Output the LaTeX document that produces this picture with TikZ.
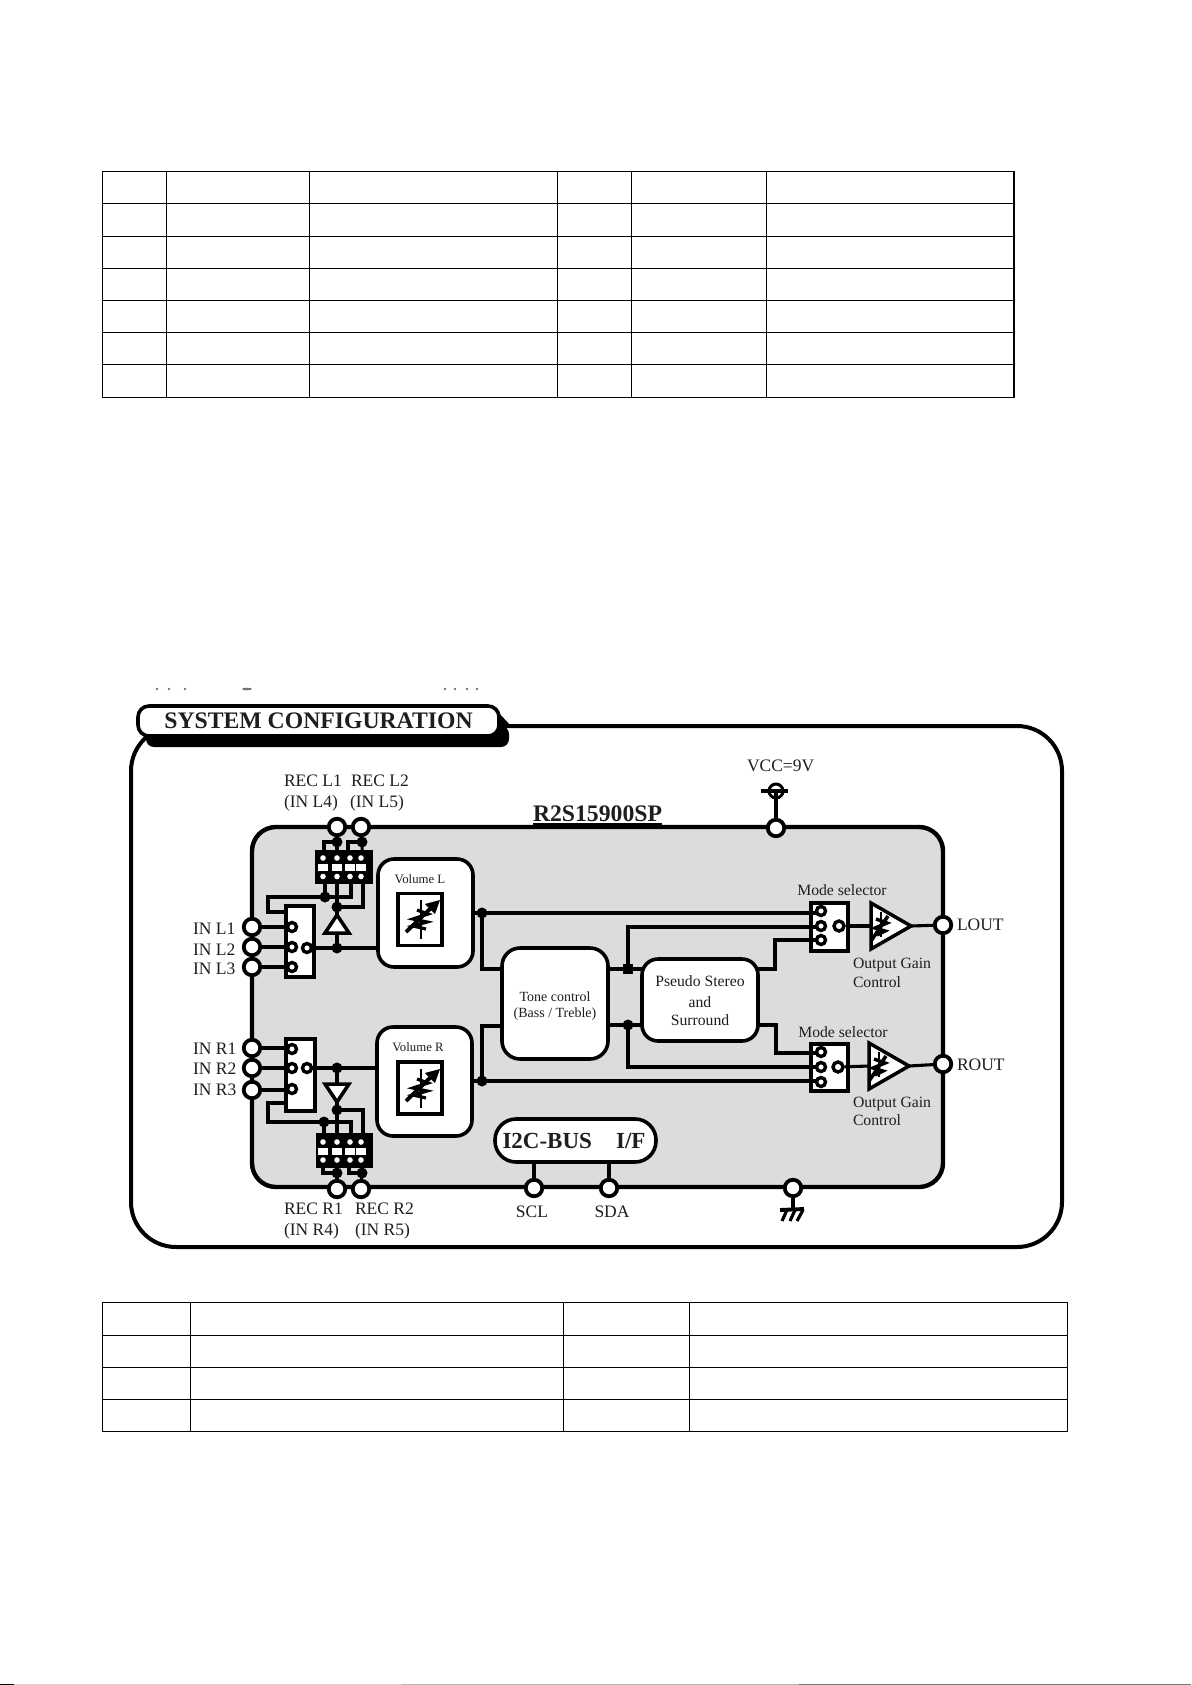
\documentclass[tikz,border=0pt]{standalone}
\usepackage{fontspec}
\setmainfont{Liberation Serif}
\usetikzlibrary{calc}
\definecolor{chipgray}{HTML}{DCDCDC}
\definecolor{txt}{HTML}{1E1E1E}
\tikzset{
  tline/.style={line width=1.4pt,black},
  wire/.style={line width=3.1pt,black,line join=miter},
  wirethick/.style={line width=3.9pt,black,line join=miter},
  pin/.style={circle,draw=black,fill=white,line width=3.8pt,minimum size=16.5pt,inner sep=0pt},
  contact/.style={circle,draw=black,fill=white,line width=3.4pt,minimum size=9pt,inner sep=0pt},
  jdot/.style={circle,fill=black,minimum size=11pt,inner sep=0pt},
  jsq/.style={rectangle,fill=black,minimum size=9.5pt,inner sep=0pt},
  sbox/.style={rectangle,draw=black,fill=white,line width=3.4pt,inner sep=0pt,outer sep=0pt},
  rbox/.style={rectangle,draw=black,fill=white,line width=3.6pt,rounded corners=16pt,inner sep=0pt,outer sep=0pt},
  icon/.style={rectangle,draw=black,fill=white,line width=3.8pt,inner sep=0pt,outer sep=0pt,minimum width=44pt,minimum height=52pt},
  tri/.style={draw=black,fill=white,line width=3.5pt,line join=miter},
  tx/.style={inner sep=0pt,outer sep=0pt,anchor=base west,text=txt,font=\fontsize{17.5}{21}\selectfont},
  txm/.style={inner sep=0pt,outer sep=0pt,anchor=base west,text=txt,font=\fontsize{15.7}{19}\selectfont},
  txc/.style={inner sep=0pt,outer sep=0pt,anchor=base,text=txt,font=\fontsize{15.7}{19}\selectfont},
  frag/.style={fill=black!55},
  varres/.pic={
    \draw[line width=2.2pt] (1,-19) -- (1,20);
    \draw[line width=3.8pt] (-14,13) -- (12,-12);
    \fill (20,-19) -- (5,-15) -- (9,-11) -- (15,-5) -- cycle;
    \draw[line width=3.2pt,line join=miter] (-3,-9) -- (8,-5) -- (-7,0) -- (7,3) -- (-7,7) -- (6,10);
  },
  vargain/.pic={
    \draw[line width=2.4pt] (10,-14) -- (10,11);
    \draw[line width=3.6pt] (0,15) -- (17,-10);
    \draw[line width=3.4pt,line join=miter] (5,-7) -- (16,-3) -- (4,2) -- (14,5) -- (6,9);
  }
}
\begin{document}
\begin{tikzpicture}[x=1pt,y=-1pt]
\path[use as bounding box,fill=white] (0,0) rectangle (1191,1685);

% scan edge at the bottom
\fill[white!88!magenta!70!gray] (0,1684) rectangle (402,1685);
\fill[black!30!white] (402,1684) rectangle (799,1685);
\fill[black!55!white] (799,1684) rectangle (1191,1685);
\fill[black] (0,1684) rectangle (14,1685);

% upper table
\foreach \yy in {171.7,203.3,236.3,268.3,300.3,332.3,364.3,397.3}
  \draw[tline] (102.7,\yy) -- (1013.9,\yy);
\foreach \xx in {102.7,166.3,309.6,557.6,631.7,766.5,1013.9}
  \draw[tline] (\xx,171) -- (\xx,398);

% lower table
\foreach \yy in {1302.3,1335.3,1367.3,1399.3,1431.3}
  \draw[tline] (102.3,\yy) -- (1067.5,\yy);
\foreach \xx in {102.3,190.4,563.6,689.7,1067.5}
  \draw[tline] (\xx,1301.6) -- (\xx,1432);

% clipped remnants of a line of text
\foreach \xx in {157,169,185,445,455,467,477}
  \fill[frag] (\xx,689) circle (1.3);
\fill[frag] (247,689) ellipse (5 and 1.3);

% outer frame
\draw[line width=4pt,black,fill=white,rounded corners=45pt] (131,726) rectangle (1062,1247);

% title
\fill[black,rounded corners=8pt] (146,726) rectangle (509,747);
\fill[black] (497,711) -- (511,726) -- (497,727) -- cycle;
\node[draw=black,fill=white,line width=3.6pt,rounded corners=11pt,minimum width=361pt,minimum height=30pt,inner sep=0pt,
  font=\bfseries\fontsize{23.7}{28}\selectfont,text=txt] (title) at (318.5,721) {\raisebox{-1.5pt}{SYSTEM CONFIGURATION}};

% chip body
\node[rectangle,draw=black,fill=chipgray,line width=4.4pt,rounded corners=24pt,minimum width=691pt,minimum height=360pt,inner sep=0pt,outer sep=0pt] (chip) at (597.5,1007) {};

% selectors and switches
\node[sbox,minimum width=28pt,minimum height=71pt] (selL) at (300,941.5) {};
\node[sbox,minimum width=29pt,minimum height=72pt] (selR) at (300.5,1075) {};
\node[sbox,minimum width=37pt,minimum height=48pt] (modeL) at (829.5,927) {};
\node[sbox,minimum width=37pt,minimum height=47pt] (modeR) at (829.5,1067.5) {};

% coordinates of the wiring
\coordinate (dotLa) at (337,948);
\coordinate (dotLb) at (337,907);
\coordinate (dotLt1) at (337,842);
\coordinate (dotLt2) at (362,842);
\coordinate (swLa) at (324,852);
\coordinate (swLb) at (348,852);
\coordinate (swLc) at (363,884);
\coordinate (swLm) at (337,884);
\coordinate (swLf) at (351,884);
\coordinate (swLg) at (325,884);
\coordinate (fbLa) at (351,897);
\coordinate (fbLb) at (268,897);
\coordinate (fbLc) at (268,912);
\coordinate (fbLd) at (286,912);
\coordinate (dotLf) at (325,897);

\coordinate (dotRa) at (337,1068);
\coordinate (dotRb) at (337,1110);
\coordinate (dotRt1) at (337,1173);
\coordinate (dotRt2) at (362,1173);
\coordinate (swRa) at (323,1166);
\coordinate (swRb) at (349,1166);
\coordinate (swRc) at (363,1134);
\coordinate (swRm) at (337,1134);
\coordinate (swRf) at (351,1134);
\coordinate (swRg) at (324,1134);
\coordinate (fbRa) at (351,1122);
\coordinate (fbRb) at (268,1122);
\coordinate (fbRc) at (268,1103);
\coordinate (fbRd) at (286,1103);
\coordinate (dotRf) at (324,1122);

\coordinate (dotM1) at (482,913);
\coordinate (dotM2) at (482,1081);
\coordinate (sqM) at (628,969);
\coordinate (dotM3) at (628,1025);
\coordinate (volLo) at (473,913);
\coordinate (volRo) at (472,1081);
\coordinate (volLi) at (378,948);
\coordinate (volRi) at (377,1068);
\coordinate (toneI1) at (502,969);
\coordinate (toneI2) at (502,1026);
\coordinate (toneO1) at (608,969);
\coordinate (toneO2) at (608,1025);
\coordinate (psI1) at (642,969);
\coordinate (psI2) at (642,1025);
\coordinate (psO1) at (758,969);
\coordinate (psO2) at (758,1025);
\coordinate (psJ1) at (775,969);
\coordinate (psJ2) at (776,1025);
\coordinate (gainLi) at (871,926);
\coordinate (gainLo) at (911,926);
\coordinate (gainRi) at (869,1066);
\coordinate (gainRo) at (909,1066);
\coordinate (vccS) at (776,791);
\coordinate (vccA) at (761,791);
\coordinate (vccB) at (788,791);
\coordinate (gndA) at (793,1209);
\coordinate (i2cA) at (534,1162);
\coordinate (i2cB) at (609,1162);

% pins (declared here, painted later over the wires)
\path
  (337,827) coordinate (pRecL1) (361,827) coordinate (pRecL2)
  (252,927) coordinate (pL1) (252,947) coordinate (pL2) (252,967) coordinate (pL3)
  (252,1048) coordinate (pR1) (252,1068) coordinate (pR2) (252,1090) coordinate (pR3)
  (337,1189) coordinate (pRecR1) (361,1189) coordinate (pRecR2)
  (534,1188) coordinate (pScl) (609,1188) coordinate (pSda) (793,1188) coordinate (pGnd)
  (776,828) coordinate (pVcc) (943,925) coordinate (pLout) (943,1064) coordinate (pRout);

% input wires
\foreach \a/\b in {pL1/292,pL2/292,pL3/292,pR1/292,pR2/292,pR3/292}
  \draw[wire] (\a) -- (\b,0 |- \a);
\draw[wire] (307,948) -- (volLi);
\draw[wire] (307,1068) -- (volRi);

% left channel, buffer and REC switch wiring
\draw[wire] (dotLa) -- (dotLb);
\draw[wire] (dotLb) -- (swLm);
\draw[wire] (dotLb) -| (swLc);
\draw[wire] (pRecL1) -- (dotLt1) -- (swLm);
\draw[wire] (pRecL2) -- (dotLt2) -- (swLc);
\draw[wire] (dotLt1) -| (swLa);
\draw[wire] (dotLt2) -| (swLb);
\draw[wirethick] (swLf) -- (fbLa) -- (fbLb) -- (fbLc) -- (fbLd);
\draw[wire] (dotLf) -- (swLg);

% right channel
\draw[wire] (dotRa) -- (dotRb);
\draw[wire] (dotRb) -- (swRm);
\draw[wire] (dotRb) -| (swRc);
\draw[wire] (pRecR1) -- (dotRt1) -- (swRm);
\draw[wire] (pRecR2) -- (dotRt2) -- (swRc);
\draw[wire] (dotRt1) -| (swRa);
\draw[wire] (dotRt2) -| (swRb);
\draw[wirethick] (swRf) -- (fbRa) -- (fbRb) -- (fbRc) -- (fbRd);
\draw[wire] (dotRf) -- (swRg);

% contacts of the selectors
\node[contact] (cL1) at (292,927) {};
\node[contact] (cL2) at (292,947) {};
\node[contact] (cL3) at (292,967) {};
\node[contact] (cLo) at (307,948) {};
\node[contact] (cR1) at (292,1049) {};
\node[contact] (cR2) at (292,1068) {};
\node[contact] (cR3) at (292,1089) {};
\node[contact] (cRo) at (307,1068) {};

% REC switches
\node[rectangle,fill=black,minimum width=58pt,minimum height=34pt,inner sep=0pt] (swL) at (344,867) {};
\node[rectangle,fill=black,minimum width=57pt,minimum height=35pt,inner sep=0pt] (swR) at (344,1150) {};
\foreach \xx in {323,337,350,361} {
  \fill[white] (\xx-5,863.5) rectangle (\xx+4.5,870.5);
  \fill[white] (\xx,858) circle (2.8);
  \fill[white] (\xx,876.5) circle (2.8);
  \fill[white] (\xx-5,1147.5) rectangle (\xx+4.5,1154.5);
  \fill[white] (\xx,1142) circle (2.8);
  \fill[white] (\xx,1160) circle (2.8);
}

% buffers
\draw[tri] (337,915) -- (349,933) -- (325,933) -- cycle;
\draw[tri] (337,1102) -- (349,1084) -- (325,1084) -- cycle;

% main signal wires
\draw[wire] (volLo) -- (dotM1);
\draw[wire] (dotM1) -- (821,913);
\draw[wirethick] (dotM1) |- (toneI1);
\draw[wire] (volRo) -- (dotM2);
\draw[wirethick] (dotM2) |- (toneI2);
\draw[wirethick] (dotM2) -- (821,1081);
\draw[wire] (toneO1) -- (psI1);
\draw[wire] (toneO2) -- (psI2);
\draw[wirethick] (sqM) |- (821,927);
\draw[wire] (dotM3) |- (821,1067);
\draw[wire] (psO1) -- (psJ1) |- (821,940);
\draw[wirethick] (psO2) -- (psJ2) |- (821,1053);

% blocks
\node[rbox,minimum width=95pt,minimum height=108pt] (volL) at (425.5,913) {};
\node[rbox,minimum width=95pt,minimum height=109pt] (volR) at (424.5,1081.5) {};
\node[rbox,rounded corners=18pt,minimum width=106pt,minimum height=111pt] (tone) at (555,1003.5) {};
\node[rbox,minimum width=116pt,minimum height=82pt] (pseudo) at (700,1000) {};
\node[icon] (iconL) at (420,919.5) {};
\node[icon] (iconR) at (420,1088) {};
\pic at (420,919) {varres};
\pic at (420,1088) {varres};
\node[rectangle,draw=black,fill=white,line width=3.6pt,rounded corners=21pt,minimum width=161pt,minimum height=43pt,inner sep=0pt,outer sep=0pt,
  font=\bfseries\fontsize{23}{27}\selectfont,text=txt] (i2c) at (575.5,1140.5) {\hspace{-3pt}I2C-BUS\hspace{0.8em} I/F};

% contacts of the mode selectors
\node[contact] (mL1) at (821,911) {};
\node[contact] (mL2) at (821,926) {};
\node[contact] (mL3) at (821,940) {};
\node[contact,minimum size=10pt] (mLo) at (839,926) {};
\node[contact] (mR1) at (821,1052) {};
\node[contact] (mR2) at (821,1067) {};
\node[contact] (mR3) at (821,1082) {};
\node[contact,minimum size=10pt] (mRo) at (838,1067) {};

% gain stages
\draw[wirethick] (mLo) -- (gainLi);
\draw[wire] (mRo) -- (gainRi);
\draw[wire] (gainLo) -- (pLout);
\draw[wire] (gainRo) -- (pRout);
\draw[tri] (871,903) -- (gainLo) -- (871,949) -- cycle;
\draw[tri] (869,1043) -- (gainRo) -- (869,1089) -- cycle;
\pic at (gainLi) {vargain};
\pic at (gainRi) {vargain};

% VCC, GND and bus stubs
\draw[wire] (vccS) -- (pVcc);
\draw[wire] (vccA) -- (vccB);
\node[circle,draw=black,fill=none,line width=3pt,minimum size=14pt,inner sep=0pt] (vccSym) at (vccS) {};
\draw[wire] (pGnd) -- (gndA);
\draw[wirethick] (780,1210) -- (804,1209);
\draw[wire] (787,1210) -- (782,1221);
\draw[wire] (795,1210) -- (790,1221);
\draw[wire] (803,1210) -- (797,1221);
\draw[wirethick] (i2cA) -- (pScl);
\draw[wire] (i2cB) -- (pSda);

% pin circles
\foreach \p in {pRecL1,pRecL2,pL1,pL2,pL3,pR1,pR2,pR3,pRecR1,pRecR2,pScl,pSda,pGnd,pVcc,pLout,pRout}
  \node[pin] (n\p) at (\p) {};

% junction dots
\foreach \p in {dotLa,dotLb,dotLt1,dotLt2,dotLf,dotRa,dotRb,dotRt1,dotRt2,dotRf,dotM1,dotM2,dotM3}
  \node[jdot] (n\p) at (\p) {};
\node[jsq] (nsqM) at (sqM) {};

% labels
\node[tx] (tRecL1) at (284,786) {REC L1};
\node[tx] (tRecL2) at (351,786) {REC L2};
\node[tx] (tInL4) at (284,807) {(IN L4)};
\node[tx] (tInL5) at (350,807) {(IN L5)};
\node[tx] (tL1) at (193,934) {IN L1};
\node[tx] (tL2) at (193,955) {IN L2};
\node[tx] (tL3) at (193,974) {IN L3};
\node[tx] (tR1) at (193,1054) {IN R1};
\node[tx] (tR2) at (193,1074) {IN R2};
\node[tx] (tR3) at (193,1095) {IN R3};
\node[tx] (tRecR1) at (284,1214) {REC R1};
\node[tx] (tRecR2) at (355,1214) {REC R2};
\node[tx] (tInR4) at (284,1235) {(IN R4)};
\node[tx] (tInR5) at (355,1235) {(IN R5)};
\node[tx,anchor=base] (tScl) at (532,1217) {SCL};
\node[tx,anchor=base] (tSda) at (612,1217) {SDA};
\node[tx] (tVcc) at (747,771) {VCC=9V};
\node[tx] (tLout) at (957,930) {LOUT};
\node[tx] (tRout) at (957,1070) {ROUT};
\node[inner sep=0pt,outer sep=0pt,anchor=base west,text=txt,font=\bfseries\fontsize{23.7}{28}\selectfont] (tChip) at (533,821) {R2S15900SP};
\draw[line width=2pt,black] (tChip.base west) ++(0,2.5) -- ++(129,0);
\node[txc,font=\fontsize{12.8}{15}\selectfont] (tVolL) at (420,883) {Volume L};
\node[txc,font=\fontsize{12.8}{15}\selectfont] (tVolR) at (418,1051) {Volume R};
\node[txc,font=\fontsize{14}{17}\selectfont] (tTone1) at (555,1001.5) {Tone control};
\node[txc,font=\fontsize{14}{17}\selectfont] (tTone2) at (555,1017.5) {(Bass / Treble)};
\node[txc] (tPs1) at (700,986) {Pseudo Stereo};
\node[txc] (tPs2) at (700,1007) {and};
\node[txc] (tPs3) at (700,1025) {Surround};
\node[txc] (tModeL) at (842,895) {Mode selector};
\node[txc] (tModeR) at (843,1037) {Mode selector};
\node[txm] (tGainL1) at (853,968) {Output Gain};
\node[txm] (tGainL2) at (853,987) {Control};
\node[txm] (tGainR1) at (853,1107) {Output Gain};
\node[txm] (tGainR2) at (853,1125) {Control};
\end{tikzpicture}
\end{document}
